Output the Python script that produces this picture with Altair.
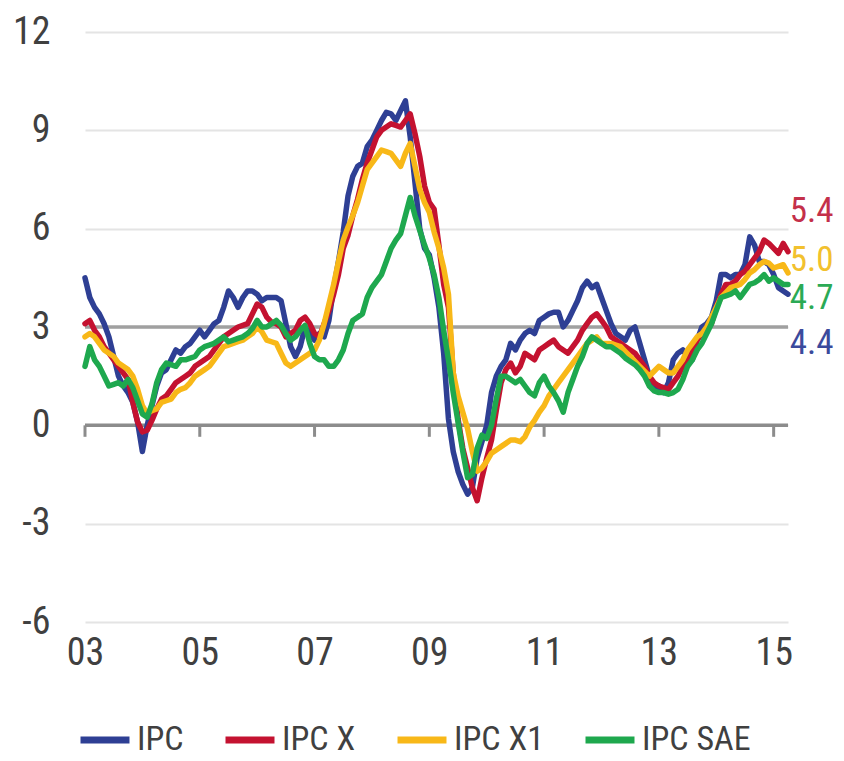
import altair as alt
import pandas as pd

FONT = "Liberation Sans Narrow, Roboto Condensed, DejaVu Sans Condensed, Arial Narrow, sans-serif"

series_names = ["IPC", "IPC X", "IPC X1", "IPC SAE"]
series_colors = ["#2E3F94", "#C41230", "#F8B818", "#1EA84E"]

ipc = [4.5, 3.9, 3.6, 3.4, 3.1, 2.7, 2.1, 1.5, 1.2, 1.0,
       0.7, 0.1, -0.8, 0.0, 0.6, 1.2, 1.6, 1.7, 2.0, 2.3, 2.2, 2.4,
       2.5, 2.7, 2.9, 2.7, 2.9, 3.1, 3.2, 3.6, 4.1, 3.9, 3.6, 3.9,
       4.1, 4.1, 4.0, 3.8, 3.9, 3.9, 3.9, 3.8, 3.1, 2.4, 2.1, 2.4,
       3.0, 2.8, 2.6, 2.8, 2.7, 3.2,
       4.2, 5.0, 5.9, 7.0, 7.6, 7.9, 8.0, 8.5, 8.7, 9.0, 9.3, 9.55, 9.5, 9.3, 9.6, 9.9, 8.8, 7.4,
       6.0, 5.4, 5.2, 4.5, 3.6, 2.2, 0.2, -0.8, -1.4, -1.8, -2.1, -1.9,
       -1.0, -0.5, 0.0, 1.0, 1.5, 1.8, 2.0, 2.5, 2.3, 2.6, 2.8, 2.9, 2.8, 3.2, 3.3, 3.4, 3.45, 3.45,
       3.0, 3.2, 3.5, 3.8, 4.2, 4.4, 4.2, 4.3, 3.9, 3.5, 3.1, 2.8, 2.7, 2.6, 2.9, 3.0, 2.5, 2.0, 1.5, 1.1,
       1.2, 1.0, 1.3, 2.0, 2.2, 2.3, 2.1, 2.0, 2.6, 3.0, 3.1, 3.3, 3.8, 4.6, 4.6, 4.5, 4.6, 4.6, 4.9,
       5.75, 5.5, 5.0, 5.0, 4.9, 4.6, 4.2, 4.1, 4.0]

ipc_x = [3.1, 3.2, 2.9, 2.7, 2.4, 2.2, 2.0, 1.8, 1.6, 1.4,
         0.7, 0.1, -0.2, -0.15, 0.15, 0.5, 0.8, 0.9, 1.1, 1.3,
         1.4, 1.5, 1.6, 1.8, 1.9, 2.0, 2.1, 2.3, 2.5, 2.7,
         2.8, 2.9, 3.0, 3.05, 3.1, 3.4, 3.7, 3.6, 3.3, 3.15, 3.1, 3.0,
         2.7, 2.8, 2.9, 3.2, 3.3, 3.1, 2.8, 2.7, 3.1, 3.5, 4.0, 4.6,
         5.4, 5.8, 6.4, 6.9, 7.5, 8.0, 8.4, 8.8, 9.0, 9.1,
         9.2, 9.15, 9.1, 9.3, 9.5, 8.9, 8.2, 7.3, 6.8, 6.6,
         5.5, 4.3, 3.6, 1.6, 0.2, -0.7, -1.3, -1.9, -2.3, -1.6,
         -1.0, -0.45, 0.45, 1.3, 1.7, 1.9, 1.6, 1.8, 2.2, 2.1,
         2.0, 2.3, 2.4, 2.5,
         2.6, 2.4, 2.3, 2.2, 2.4, 2.6, 2.9, 3.1, 3.3, 3.4, 3.2, 3.0,
         2.7, 2.6, 2.5, 2.4, 2.3, 2.2, 2.0, 1.8, 1.5, 1.3, 1.2, 1.15, 1.1,
         1.3, 1.5, 1.8, 2.0, 2.3, 2.6, 2.8, 2.9, 3.1, 3.6, 4.0, 4.3,
         4.3, 4.4, 4.6, 4.7, 4.9, 5.1, 5.3, 5.65, 5.55, 5.4, 5.25, 5.55, 5.3]

ipc_x1 = [2.7, 2.8, 2.7, 2.5, 2.3, 2.2, 2.1, 1.9, 1.8, 1.7,
          1.5, 1.1, 0.6, 0.35, 0.45, 0.5, 0.7, 0.75, 0.8, 1.0,
          1.1, 1.15, 1.3, 1.5, 1.6, 1.7, 1.8, 2.0, 2.2, 2.4,
          2.45, 2.5, 2.55, 2.6, 2.7, 2.8, 3.0, 2.85, 2.6, 2.55, 2.5, 2.2,
          1.9, 1.8, 1.9, 2.0, 2.1, 2.2, 2.3, 2.6, 3.1, 3.7, 4.3, 5.0,
          5.65, 6.05, 6.4, 6.8, 7.3, 7.8, 8.0, 8.2, 8.4, 8.35,
          8.3, 8.1, 7.9, 8.3, 8.6, 7.9, 7.2, 6.8, 6.5, 5.9,
          5.4, 4.8, 4.0,
          1.6, 0.9, 0.4, -0.1, -0.8, -1.4, -1.3, -1.1, -0.85, -0.75,
          -0.65, -0.55, -0.45, -0.45, -0.5, -0.35, -0.05, 0.15, 0.4, 0.6,
          0.9, 1.1, 1.3, 1.5, 1.7, 1.9, 2.1, 2.3, 2.5, 2.6, 2.7,
          2.5, 2.5, 2.5, 2.45, 2.4, 2.25, 2.1, 1.95, 1.8, 1.65, 1.5, 1.65,
          1.8, 1.7, 1.6, 1.6, 1.8, 2.0,
          2.3, 2.5, 2.7, 2.8, 3.0, 3.3, 3.6, 3.9, 4.05, 4.2, 4.25,
          4.3, 4.45, 4.65, 4.75, 4.9, 5.0, 4.95, 4.8, 4.85, 4.9, 4.65]

ipc_sae = [1.8, 2.4, 2.0, 1.8, 1.5, 1.2, 1.25, 1.3, 1.2, 1.4,
           1.15, 0.75, 0.35, 0.25, 0.65, 1.3, 1.7, 1.9, 1.85, 1.8,
           2.0, 2.0, 2.05, 2.1, 2.3, 2.4, 2.45, 2.5, 2.6, 2.7,
           2.55, 2.6, 2.65, 2.7, 2.8, 2.95, 3.2, 3.0, 3.0, 3.1,
           3.2, 3.05, 2.8, 2.6, 2.7, 2.9, 3.05, 2.5, 2.1, 2.0,
           2.0, 1.8, 1.8, 2.0, 2.3, 2.8, 3.2, 3.3, 3.4, 3.9,
           4.2, 4.4, 4.6, 5.0, 5.4, 5.65, 5.85, 6.4, 6.95,
           6.4, 5.95, 5.5, 5.1, 4.6, 3.9, 2.9, 2.0, 1.0, 0.1,
           -0.8, -1.6, -1.5, -0.7, -0.3, -0.4, 0.0, 0.8, 1.5, 1.5,
           1.4, 1.3, 1.4, 1.2, 1.0, 0.9, 1.3, 1.5, 1.2, 1.0,
           0.75, 0.4, 1.0, 1.4, 1.8, 2.1, 2.5, 2.7, 2.6, 2.5,
           2.4, 2.4, 2.3, 2.2, 2.05, 1.95, 1.85, 1.7, 1.5, 1.2,
           1.05, 1.0, 1.0,
           0.95, 1.0, 1.1, 1.4, 1.8, 2.0, 2.3, 2.5, 2.8, 3.1,
           3.5, 3.9, 3.95, 4.0, 4.1, 3.9, 4.1, 4.3, 4.35, 4.45,
           4.6, 4.4, 4.5, 4.4, 4.3, 4.3]

start_year = 2003
y_ticks = [-6, -3, 0, 3, 6, 9, 12]
x_ticks = [2003, 2005, 2007, 2009, 2011, 2013, 2015]

end_labels = ["5.4", "5.0", "4.7", "4.4"]
end_label_y = [6.55, 5.05, 3.9, 2.5]
end_label_colors = ["#C4304A", "#F2C12E", "#2BAA55", "#3B4A9C"]

rows = []
for name, vals in zip(series_names, [ipc, ipc_x, ipc_x1, ipc_sae]):
    for i, v in enumerate(vals):
        rows.append({"t": start_year + i / 12.0, "v": v, "serie": name})
df = pd.DataFrame(rows)

n_months = max(len(ipc), len(ipc_x), len(ipc_x1), len(ipc_sae))
x_end = start_year + (n_months - 1) / 12.0

x_scale = alt.Scale(domain=[start_year, x_end], nice=False, zero=False)
y_scale = alt.Scale(domain=[-6, 12], nice=False, zero=False)

base = alt.Chart(df)

lines = base.mark_line(strokeWidth=5.5, strokeJoin="round", strokeCap="round").encode(
    x=alt.X("t:Q", scale=x_scale,
            axis=alt.Axis(values=x_ticks, labelExpr="substring(toString(datum.value), 2)",
                          grid=False, ticks=False, domain=False, labelFontSize=38,
                          labelFlush=False, labelBound=False,
                          labelFont=FONT, labelColor="#404040", labelPadding=12, title=None)),
    y=alt.Y("v:Q", scale=y_scale,
            axis=alt.Axis(values=y_ticks, labelExpr="toString(datum.value)",
                          grid=True, gridColor="#e4e4e4", gridWidth=2,
                          ticks=False, domain=False, labelFontSize=38, labelFont=FONT,
                          labelColor="#404040", labelPadding=35, title=None)),
    color=alt.Color("serie:N",
                    scale=alt.Scale(domain=series_names, range=series_colors),
                    sort=series_names,
                    legend=alt.Legend(orient="none", legendX=-8, legendY=680,
                                      direction="horizontal", title=None,
                                      symbolType="stroke", symbolStrokeWidth=7,
                                      symbolSize=2400, labelFontSize=34, labelFont=FONT,
                                      labelColor="#404040", labelOffset=4, columnPadding=27,
                                      labelLimit=300)),
    order=alt.Order("t:Q"),
)

ref3 = alt.Chart(pd.DataFrame({"y": [3]})).mark_rule(color="#a0a0a0", strokeWidth=3.5).encode(
    y=alt.Y("y:Q", scale=y_scale))
ref0 = alt.Chart(pd.DataFrame({"y": [0]})).mark_rule(color="#8c8c8c", strokeWidth=3.5).encode(
    y=alt.Y("y:Q", scale=y_scale))
ticks = alt.Chart(pd.DataFrame({"t": x_ticks, "y0": [0] * len(x_ticks), "y1": [-0.35] * len(x_ticks)})
                  ).mark_rule(color="#8c8c8c", strokeWidth=3).encode(
    x=alt.X("t:Q", scale=x_scale), y=alt.Y("y0:Q", scale=y_scale), y2="y1:Q")

lab_df = pd.DataFrame({"t": [x_end + 0.03] * len(end_labels), "y": end_label_y,
                       "txt": end_labels, "c": end_label_colors})
labels = alt.Chart(lab_df).mark_text(align="left", baseline="middle", fontSize=35, font=FONT).encode(
    x=alt.X("t:Q", scale=x_scale), y=alt.Y("y:Q", scale=y_scale),
    text="txt:N", color=alt.Color("c:N", scale=None))

chart = alt.layer(ref3, ref0, ticks, lines, labels).properties(
    width=703, height=590,
    autosize=alt.AutoSizeParams(type="none"),
    padding={"left": 77, "top": 24, "right": 48, "bottom": 137},
).configure_view(stroke=None)

chart.save("out.html", embed_options={"renderer": "svg", "actions": False})
